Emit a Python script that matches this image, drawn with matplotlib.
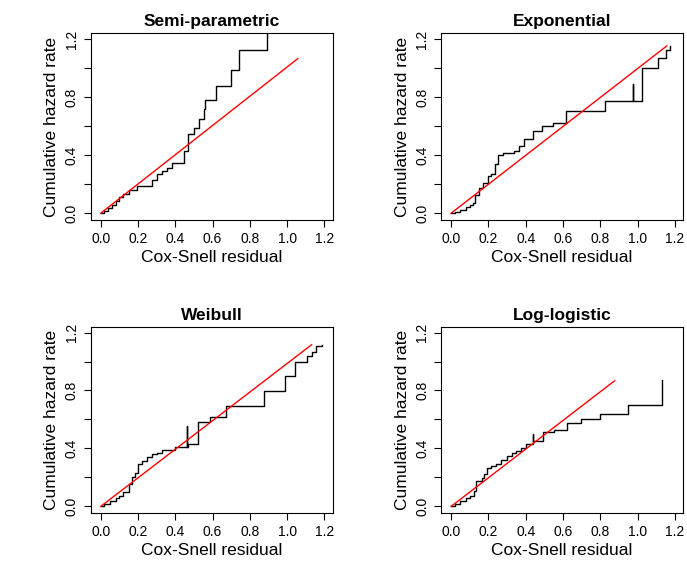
import numpy as np
import matplotlib
matplotlib.use("Agg")
import matplotlib.pyplot as plt

plt.rcParams['font.family'] = ['Liberation Sans', 'DejaVu Sans']

titles = ["Semi-parametric", "Exponential", "Weibull", "Log-logistic"]

# step curves (event residual, cumulative hazard after step)
semi_x = [0.0, 0.02, 0.04, 0.06, 0.08, 0.10, 0.12, 0.15, 0.195, 0.275, 0.30, 0.33, 0.355, 0.38,
          0.445, 0.47, 0.5, 0.527, 0.552, 0.558, 0.618, 0.70, 0.743, 0.89, 0.89]
semi_y = [0.0, 0.015, 0.035, 0.06, 0.085, 0.11, 0.13, 0.16, 0.186, 0.23, 0.27, 0.29, 0.31, 0.35,
          0.43, 0.545, 0.59, 0.65, 0.72, 0.78, 0.875, 0.99, 1.125, 1.125, 1.26]

expo_x = [0.0, 0.02, 0.05, 0.08, 0.10, 0.117, 0.126, 0.149, 0.17, 0.196, 0.213, 0.234, 0.252,
          0.278, 0.336, 0.362, 0.393, 0.44, 0.49, 0.545, 0.615, 0.825, 0.977, 0.977, 1.023,
          1.108, 1.152, 1.175]
expo_y = [0.0, 0.01, 0.025, 0.04, 0.055, 0.07, 0.128, 0.174, 0.209, 0.255, 0.27, 0.34, 0.40,
          0.418, 0.43, 0.464, 0.51, 0.568, 0.603, 0.626, 0.703, 0.777, 0.893, 0.777, 1.002,
          1.072, 1.125, 1.153]

weib_x = [0.0, 0.02, 0.05, 0.08, 0.10, 0.122, 0.149, 0.166, 0.184, 0.202, 0.223, 0.246, 0.273,
          0.299, 0.326, 0.396, 0.464, 0.464, 0.467, 0.52, 0.588, 0.671, 0.874, 0.989, 1.042,
          1.104, 1.131, 1.154, 1.184]
weib_y = [0.0, 0.015, 0.035, 0.055, 0.075, 0.10, 0.158, 0.205, 0.228, 0.293, 0.316, 0.344, 0.36,
          0.367, 0.391, 0.409, 0.553, 0.409, 0.433, 0.581, 0.619, 0.693, 0.798, 0.902, 1.0,
          1.037, 1.065, 1.107, 1.112]

logl_x = [0.0, 0.02, 0.05, 0.08, 0.10, 0.123, 0.132, 0.168, 0.177, 0.195, 0.2125, 0.239, 0.266,
          0.302, 0.325, 0.346, 0.373, 0.404, 0.439, 0.439, 0.493, 0.552, 0.623, 0.695, 0.796,
          0.948, 1.129, 1.129]
logl_y = [0.0, 0.015, 0.035, 0.055, 0.075, 0.103, 0.172, 0.195, 0.223, 0.264, 0.276, 0.294, 0.317,
          0.345, 0.372, 0.384, 0.402, 0.432, 0.501, 0.448, 0.513, 0.529, 0.575, 0.602, 0.639,
          0.701, 0.701, 0.869]

# end points of the red reference lines
line_end_x = [1.057, 1.157, 1.131, 0.877]
line_end_y = [1.067, 1.155, 1.116, 0.867]

steps = [(semi_x, semi_y), (expo_x, expo_y), (weib_x, weib_y), (logl_x, logl_y)]

fig = plt.figure(figsize=(6.87, 5.66), dpi=100)
positions = [(0.132, 0.611), (0.642, 0.611), (0.132, 0.093), (0.642, 0.093)]
ticks = [0.0, 0.2, 0.4, 0.6, 0.8, 1.0, 1.2]
ylabels = ["0.0", "", "0.4", "", "0.8", "", "1.2"]

for i in range(4):
    ax = fig.add_axes([positions[i][0], positions[i][1], 0.352, 0.330])
    sx, sy = steps[i]
    ax.step(sx, sy, where='post', color='black', lw=1.0)
    ax.plot([0, line_end_x[i]], [0, line_end_y[i]], color='red', lw=1.0)
    ax.set_xlim(-0.054, 1.243)
    ax.set_ylim(-0.048, 1.241)
    ax.set_xticks(ticks)
    ax.set_yticks(ticks)
    ax.set_xticklabels(["%.1f" % t for t in ticks], fontsize=10)
    ax.set_yticklabels(ylabels, fontsize=10, rotation=90, va='center')
    ax.tick_params(length=5, width=0.8)
    for s in ax.spines.values():
        s.set_linewidth(0.8)
    ax.set_title(titles[i], fontsize=12.5, fontweight='bold', pad=5)
    ax.set_xlabel("Cox-Snell residual", fontsize=12.5, labelpad=3)
    ax.set_ylabel("Cumulative hazard rate", fontsize=12.5, labelpad=4)

fig.savefig("out.png", dpi=100)
